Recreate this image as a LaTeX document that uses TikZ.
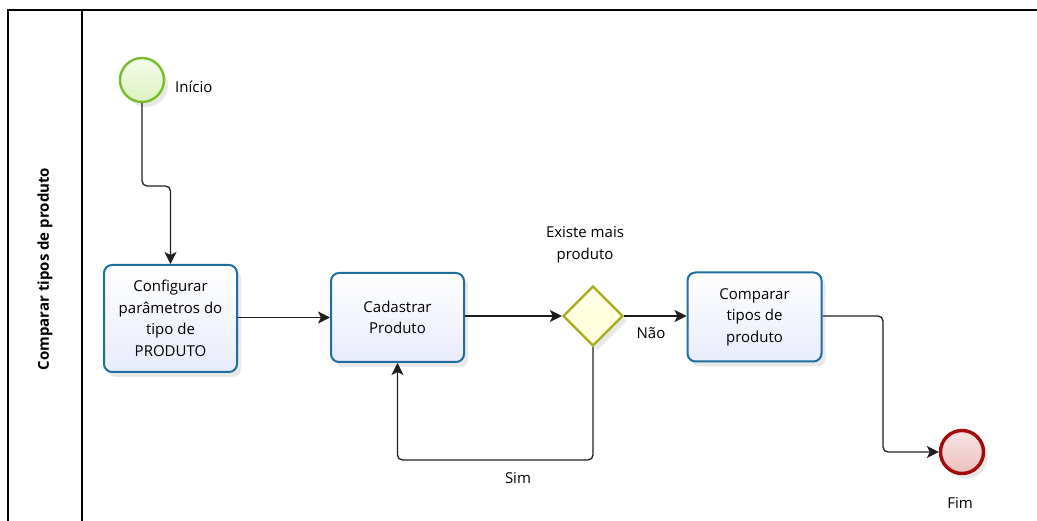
\documentclass[tikz,border=0pt]{standalone}
\usepackage{fontspec}
\setmainfont{Open Sans}
\usetikzlibrary{arrows.meta,shapes.geometric,shadows,calc}
\definecolor{taskline}{RGB}{30,110,160}
\definecolor{taskfill}{RGB}{232,236,250}
\definecolor{startline}{RGB}{120,190,40}
\definecolor{startfill}{RGB}{222,242,190}
\definecolor{endline}{RGB}{165,10,10}
\definecolor{endfill}{RGB}{236,190,190}
\definecolor{gwline}{RGB}{170,170,30}
\definecolor{gwfill}{RGB}{255,255,215}
\definecolor{flowline}{RGB}{30,30,30}
\tikzset{
  softshadow/.style={drop shadow={opacity=0.18, shadow xshift=4pt, shadow yshift=-5pt}},
  taskbox/.style={draw=taskline, line width=2pt, rounded corners=8pt,
    top color=white, bottom color=taskfill, softshadow,
    align=center, font=\fontsize{15}{21.5}\selectfont, inner sep=0pt},
  startev/.style={circle, draw=startline, line width=2.4pt, minimum size=44pt,
    inner sep=0pt, top color=white!70!startfill, bottom color=startfill, softshadow},
  endev/.style={circle, draw=endline, line width=3.4pt, minimum size=43pt,
    inner sep=0pt, top color=endfill!40, bottom color=endfill, softshadow},
  gateway/.style={diamond, draw=gwline, line width=2.4pt, minimum width=60pt,
    minimum height=60pt, inner sep=0pt, top color=white!40!gwfill, bottom color=gwfill, softshadow},
  flow/.style={draw=flowline, line width=1.3pt, rounded corners=5pt,
    -{Stealth[length=12pt,width=12pt,inset=3pt]}},
  lbl/.style={font=\fontsize{15}{22}\selectfont, align=center, inner sep=0pt},
  poolline/.style={line width=1.5pt, black}
}
\begin{document}
\begin{tikzpicture}[x=1pt,y=-1pt]
  \useasboundingbox (0,0) rectangle (1037,521);
  % pool and lane header
  \draw[poolline] (1037,10) -- (8,10) -- (8,521);
  \draw[poolline] (82,10) -- (82,521);
  \node[rotate=90, font=\bfseries\fontsize{15}{18}\selectfont] (lane) at (45,269) {Comparar tipos de produto};

  % events, tasks and gateway
  \node[startev] (start) at (142,80) {};
  \node[lbl, anchor=west] (startlbl) at (175,87) {Início};

  \node[taskbox, minimum width=133pt, minimum height=107pt] (t1) at (170.5,318.5)
    {Configurar\\parâmetros do\\tipo de\\PRODUTO};
  \node[taskbox, minimum width=133pt, minimum height=89pt] (t2) at (397.5,317.5)
    {Cadastrar\\Produto};
  \node[gateway] (gw) at (593,316) {};
  \node[lbl] (gwlbl) at (585,245) {Existe mais\\produto};
  \node[taskbox, minimum width=134pt, minimum height=89pt] (t3) at (754.5,317)
    {Comparar\\tipos de\\produto};
  \node[endev] (end) at (962,452) {};
  \node[lbl] (endlbl) at (960,503) {Fim};

  % bend points
  \coordinate (j1) at (157,186);
  \coordinate (j2) at (883,380);
  \coordinate (j3) at (500,460);

  % sequence flows
  \draw[flow] (start.south) |- (j1) -| (t1.north);
  \draw[flow] (t1.east |- t2.west) -- (t2.west);
  \draw[flow] (t2.east |- gw.west) -- (gw.west);
  \draw[flow] (gw.east) -- (t3.west |- gw.east);
  \node[lbl] (nao) at (651,333) {Não};
  \draw[flow] (t3.east |- gw.east) -| (j2) |- (end.west);
  \draw[flow] (gw.south) |- (j3) -| (t2.south);
  \node[lbl] (sim) at (518,478) {Sim};
\end{tikzpicture}
\end{document}
